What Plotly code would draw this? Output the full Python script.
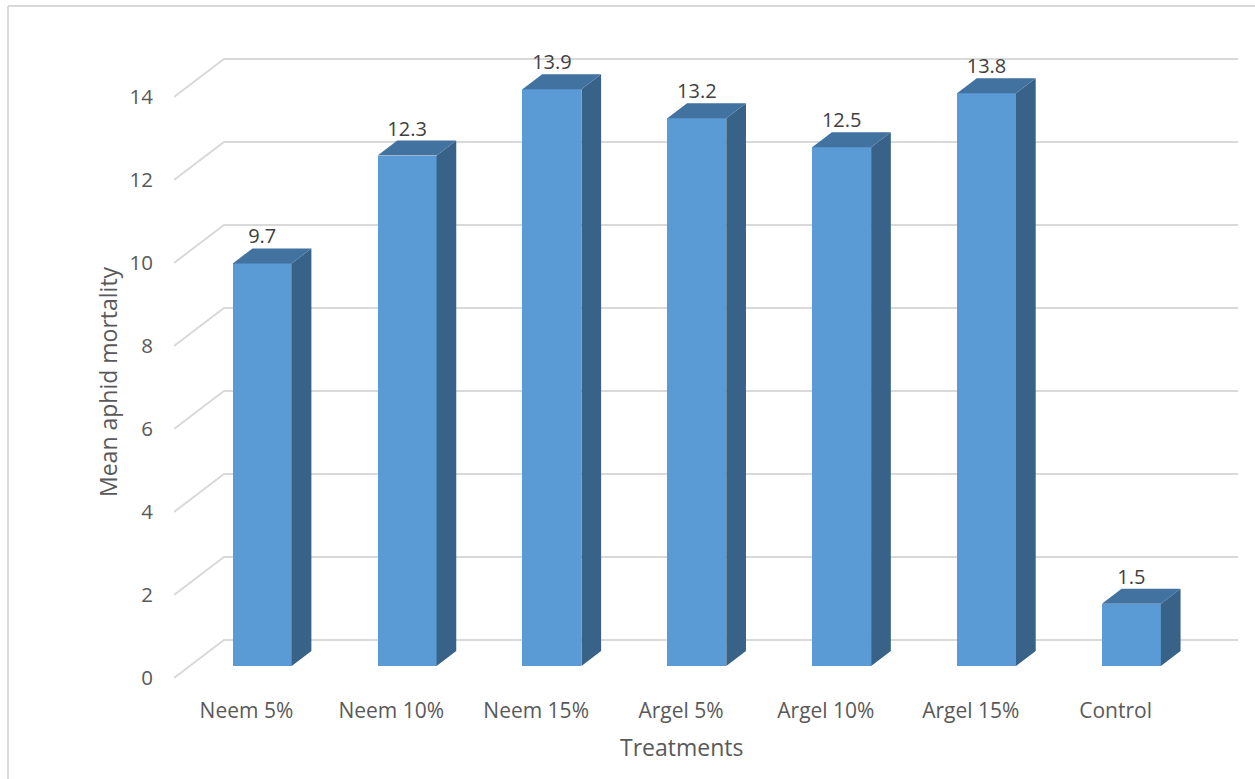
import plotly.graph_objects as go

# ---- data ----
categories = ["Neem 5%", "Neem 10%", "Neem 15%", "Argel 5%", "Argel 10%", "Argel 15%", "Control"]
mortality = [9.7, 12.3, 13.9, 13.2, 12.5, 13.8, 1.5]
y_ticks = [0, 2, 4, 6, 8, 10, 12, 14]

# ---- pseudo-3D geometry (in axis units) ----
DEPTH_X = 0.345      # full depth shift along x (category units)
DEPTH_Y = 0.916      # full depth shift along y (value units)
F_FRONT = 0.316      # depth fraction of bar front face
F_BACK = 0.71        # depth fraction of bar back face
BAR_W = 0.407
X_LEFT = -0.5
X_RIGHT = 6.5 + DEPTH_X

FRONT = "#5B9BD5"
SIDE = "#386288"
TOP = "#4272A0"
GRID = "#D9D9D9"
TXT = "#595959"
FONT = "Open Sans"

W, H = 1255, 779
ML, MR, MT, MB = 174, 17, 30, 84

fig = go.Figure()

xi = list(range(len(categories)))
x_front = [i + F_FRONT * DEPTH_X for i in xi]
base = F_FRONT * DEPTH_Y
ddx = (F_BACK - F_FRONT) * DEPTH_X
ddy = (F_BACK - F_FRONT) * DEPTH_Y

# front faces
fig.add_trace(go.Bar(
    x=x_front, y=mortality, base=base, width=BAR_W,
    marker=dict(color=FRONT, line=dict(width=0)),
    hoverinfo="skip", showlegend=False,
))

# side faces
sx, sy = [], []
for xc, v in zip(x_front, mortality):
    xr = xc + BAR_W / 2
    top = v + base
    sx += [xr, xr + ddx, xr + ddx, xr, xr, None]
    sy += [base, base + ddy, top + ddy, top, base, None]
fig.add_trace(go.Scatter(x=sx, y=sy, mode="lines", fill="toself",
                         fillcolor=SIDE, line=dict(width=0, color=SIDE),
                         hoverinfo="skip", showlegend=False))

# top faces
tx, ty = [], []
for xc, v in zip(x_front, mortality):
    xl = xc - BAR_W / 2
    xr = xc + BAR_W / 2
    top = v + base
    tx += [xl, xr, xr + ddx, xl + ddx, xl, None]
    ty += [top, top, top + ddy, top + ddy, top, None]
fig.add_trace(go.Scatter(x=tx, y=ty, mode="lines", fill="toself",
                         fillcolor=TOP, line=dict(width=0, color=TOP),
                         hoverinfo="skip", showlegend=False))

# data labels
fig.add_trace(go.Scatter(
    x=x_front, y=[v + F_BACK * DEPTH_Y for v in mortality],
    mode="text", text=[f"{v:.1f}" for v in mortality],
    textposition="top center",
    textfont=dict(family=FONT, size=20, color="#404040"),
    hoverinfo="skip", showlegend=False,
))

# gridlines (floor-to-wall perspective), drawn below
shapes = []
for t in y_ticks:
    shapes.append(dict(
        type="path", xref="x", yref="y", layer="below",
        path=f"M {X_LEFT},{t} L {X_LEFT + DEPTH_X},{t + DEPTH_Y} L {X_RIGHT},{t + DEPTH_Y}",
        line=dict(color=GRID, width=2),
    ))

pw, ph = W - ML - MR, H - MT - MB
def px(x):
    return (x - ML) / pw
def py(y):
    return (H - MB - y) / ph

# chart border
shapes.append(dict(type="line", xref="paper", yref="paper",
                   x0=px(8), x1=px(8), y0=py(6), y1=py(790),
                   line=dict(color=GRID, width=2)))
shapes.append(dict(type="line", xref="paper", yref="paper",
                   x0=px(8), x1=px(1260), y0=py(6), y1=py(6),
                   line=dict(color=GRID, width=2)))

y_lo = -(H - MB - 678) / 41.5
y_hi = (678 - MT) / 41.5

fig.update_layout(
    width=W, height=H,
    margin=dict(l=ML, r=MR, t=MT, b=MB),
    paper_bgcolor="white", plot_bgcolor="white",
    shapes=shapes,
    bargap=0,
    xaxis=dict(range=[X_LEFT, X_RIGHT], tickvals=xi, ticktext=categories,
               showgrid=False, zeroline=False, showline=False, ticks="",
               ticklabelstandoff=1,
               tickfont=dict(family=FONT, size=21, color=TXT)),
    yaxis=dict(range=[y_lo, y_hi], tickvals=y_ticks,
               showgrid=False, zeroline=False, showline=False, ticks="",
               ticklabelstandoff=20,
               tickfont=dict(family=FONT, size=20.5, color=TXT)),
    annotations=[
        dict(text="Mean aphid mortality", xref="paper", yref="paper",
             x=px(108), y=py(382), textangle=-90, showarrow=False,
             font=dict(family=FONT, size=23, color=TXT),
             xanchor="center", yanchor="middle"),
        dict(text="Treatments", xref="paper", yref="paper",
             x=px(681), y=py(747), showarrow=False,
             font=dict(family=FONT, size=23, color=TXT),
             xanchor="center", yanchor="middle"),
    ],
)

fig.write_html("out.html")
